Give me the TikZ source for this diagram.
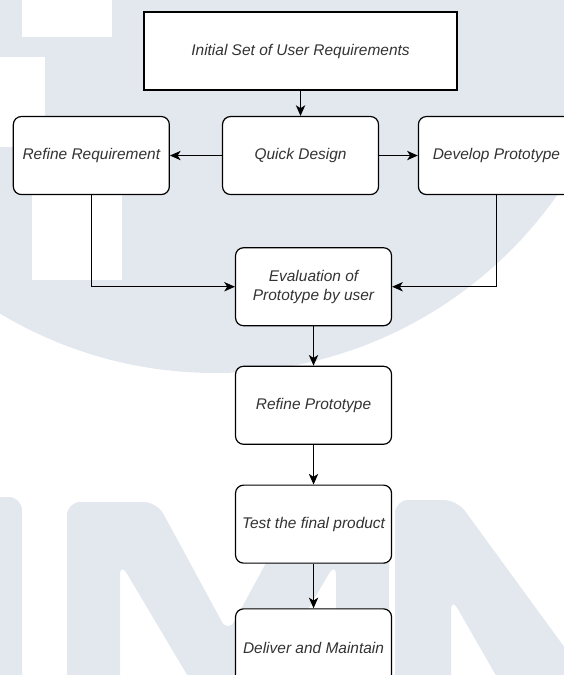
\documentclass[tikz,border=0pt]{standalone}
\usepackage{fontspec}
\setsansfont{Liberation Sans}
\usetikzlibrary{positioning,arrows.meta}
\definecolor{wmark}{RGB}{227,232,239}
\definecolor{txtgray}{RGB}{51,51,51}

\begin{document}
\begin{tikzpicture}[
  font=\sffamily\itshape\fontsize{11.6}{14.6}\selectfont,
  >={Stealth[length=8pt,width=7pt,inset=2.2pt]},
  box/.style={draw,fill=white,line width=0.9pt,rounded corners=6pt,
              minimum width=117pt,minimum height=58.5pt,align=center,
              text=txtgray,inner sep=2pt},
  topbox/.style={box,sharp corners,minimum width=234.75pt},
  flow/.style={->,line width=0.9pt},
  wm/.style={fill=wmark,rounded corners=10},
]
\useasboundingbox (0,0) rectangle (423pt,-506.25pt);

% ===== watermark (pixel grid, y down) =====
\begin{scope}[x=0.75pt,y=-0.75pt]
  \clip (0,0) rectangle (564,675);
  \fill[wmark] (215,-45) circle (418);
  \fill[white] (22,0) rectangle (112,37);
  \fill[white] (0,57) rectangle (45,147);
  \fill[white] (32,180) rectangle (122,280);
  \fill[wm] (-30,700) -- (-30,497) -- (22,497) -- (22,700) -- cycle;
  \fill[wm] (67,700) -- (67,502) -- (157,502) -- (228,633) -- (299,502)
    -- (389,502) -- (389,700) -- (336,700) -- (336,562) -- (254,700)
    -- (202,700) -- (120,562) -- (120,700) -- cycle;
  \fill[wm] (395,700) -- (395,500) -- (457,500) -- (603,700) -- (510,700)
    -- (451,597) -- (451,700) -- cycle;
\end{scope}

% ===== top row =====
\node[topbox] (init) at (225.4pt,-38.25pt) {Initial Set of User Requirements};
\node[box,below=19pt of init] (quick) {Quick Design};
\node[box,left=39pt of quick] (refreq) {Refine Requirement};
\node[box,right=29pt of quick] (devp) {Develop Prototype};

% ===== evaluation and after =====
\node[box,below=39pt of quick,xshift=9.75pt] (eval) {Evaluation of\\Prototype by user};
\node[box,below=29.5pt of eval] (refp) {Refine Prototype};
\node[box,below=29.75pt of refp] (test) {Test the final product};
\node[box,below=33.4pt of test] (deliv) {Deliver and Maintain};

% ===== arrows =====
\draw[flow] (init) -- (quick);
\draw[flow] (quick) -- (refreq);
\draw[flow] (quick) -- (devp);
\draw[flow] (refreq.south) |- (eval.west);
\draw[flow] (devp.south) |- (eval.east);
\draw[flow] (eval) -- (refp);
\draw[flow] (refp) -- (test);
\draw[flow] (test) -- (deliv);
\end{tikzpicture}
\end{document}
